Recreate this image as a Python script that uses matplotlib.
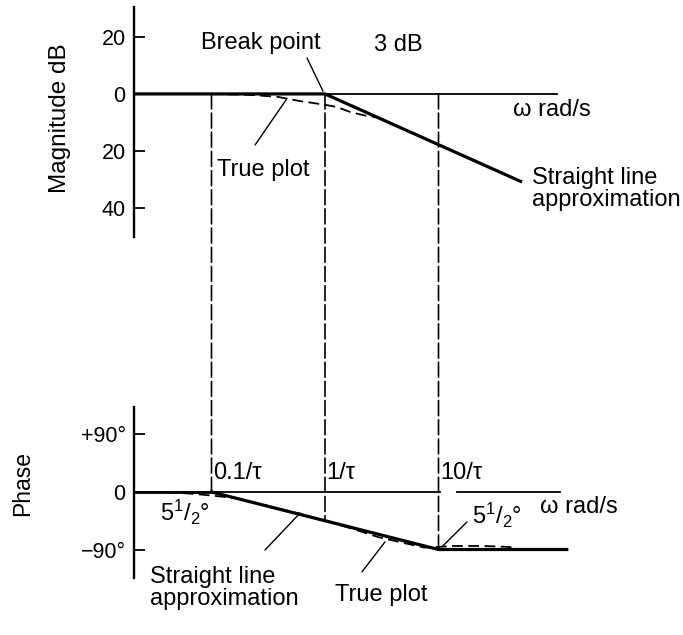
import matplotlib
matplotlib.use('Agg')
import matplotlib.pyplot as plt
from matplotlib.patches import ConnectionPatch

plt.rcParams['font.family'] = ['Liberation Sans', 'DejaVu Sans']
plt.rcParams['mathtext.fontset'] = 'custom'
plt.rcParams['mathtext.rm'] = 'Liberation Sans'
plt.rcParams['mathtext.it'] = 'Liberation Sans'
plt.rcParams['mathtext.default'] = 'regular'

# ---------------- data ----------------
mag_ticks = [20, 0, -20, -40]
mag_ticklabels = ['20', '0', '20', '40']
phase_ticks = [90, 0, -90]
phase_ticklabels = ['+90°', '0', '−90°']

corner_w = [0.1, 1, 10]
corner_labels = ['0.1/τ', '1/τ', '10/τ']
corner_phase = [0, -45, -90]

mag_asym_w = [0.0208, 1, 54.4]
mag_asym_db = [0, 0, -30.9]
mag_true_w = [0.1, 0.22, 0.38, 0.6, 1, 1.27, 1.66, 2.2, 3.05]
mag_true_db = [0, -0.35, -1, -2.5, -3.8, -4.6, -6.3, -7.5, -8.4]

ph_asym_w = [0.1, 10, 135]
ph_asym_deg = [0, -90, -90]
ph_true_w = [0.04, 0.07, 0.1, 0.17, 0.3, 0.6, 1, 1.7, 3, 5, 7.5, 10, 13, 25, 42, 50, 60]
ph_true_deg = [0, -3, -5.5, -10, -21, -34, -45, -57, -71, -80, -87, -86, -84.5, -84.5, -86, -89, -90]

# ---------------- layout ----------------
W, H = 683, 635
fig = plt.figure(figsize=(W / 100, H / 100), dpi=100)
fig.patch.set_facecolor('white')

xlo = 10 ** ((134 - 325) / 113.5)
xhi = 10 ** ((620 - 325) / 113.5)

ax1 = fig.add_axes([134 / W, 1 - 237 / H, 486 / W, 230 / H])
ax2 = fig.add_axes([134 / W, 1 - 578 / H, 486 / W, 171 / H])

FS = 17
for ax in (ax1, ax2):
    ax.set_xscale('log')
    ax.set_xlim(xlo, xhi)
    for s in ('top', 'right', 'bottom'):
        ax.spines[s].set_visible(False)
    ax.spines['left'].set_linewidth(1.7)
    ax.xaxis.set_visible(False)
    ax.tick_params(axis='y', direction='in', length=8, width=1.3,
                   labelsize=15.5, pad=6)
    ax.set_facecolor('none')

ax1.set_ylim(-50.2, 30.5)
ax1.set_yticks(mag_ticks)
ax1.set_yticklabels(mag_ticklabels)
ax2.set_ylim(-134.6, 133)
ax2.set_yticks(phase_ticks)
ax2.set_yticklabels(phase_ticklabels)

# axis lines (omega axes)
ax1.plot([xlo, 110], [0, 0], color='k', lw=1.3)
ax2.plot([xlo, 10.3], [0, 0], color='k', lw=1.3)
ax2.plot([14.5, 118], [0, 0], color='k', lw=1.3)

# magnitude curves
ax1.plot(mag_asym_w, mag_asym_db, color='k', lw=2.3, solid_capstyle='butt')
ax1.plot(mag_true_w, mag_true_db, color='k', lw=1.3, linestyle=(0, (6, 3)))

# phase curves
ax2.plot([xlo, ph_asym_w[0]], [0, 0], color='k', lw=2.0)
ax2.plot(ph_asym_w, ph_asym_deg, color='k', lw=2.3)
ax2.plot(ph_true_w, ph_true_deg, color='k', lw=1.3, linestyle=(0, (6, 3)))

# vertical dashed guide lines spanning both panels
for w, p in zip(corner_w, corner_phase):
    cp = ConnectionPatch(xyA=(w, 0), coordsA='data', axesA=ax1,
                         xyB=(w, p), coordsB='data', axesB=ax2,
                         color='k', lw=1.2, linestyle=(0, (9, 2.5)))
    fig.add_artist(cp)

lead = dict(arrowstyle='-', lw=1.0, color='k', shrinkA=0, shrinkB=0)

# ---- top annotations ----
ax1.text(0.273, 17.9, 'Break point', ha='center', va='center', fontsize=FS)
ax1.annotate('', xy=(0.96, 1.0), xytext=(0.694, 12.6), arrowprops=lead)
ax1.text(4.4, 17.2, '3 dB', ha='center', va='center', fontsize=FS)
ax1.text(45.3, -5.6, 'ω rad/s', ha='left', va='center', fontsize=FS)
ax1.text(0.112, -26.7, 'True plot', ha='left', va='center', fontsize=FS)
ax1.annotate('', xy=(0.463, -1.6), xytext=(0.242, -17.9), arrowprops=lead)
ax1.text(66.7, -33.3, 'Straight line\napproximation', ha='left', va='center',
         fontsize=FS, linespacing=0.98)

# ---- bottom annotations ----
for w, lab in zip(corner_w, corner_labels):
    ax2.text(w * 1.03, 29.7, lab, ha='left', va='center', fontsize=FS)
ax2.text(78.4, -23.5, 'ω rad/s', ha='left', va='center', fontsize=FS)
ax2.text(0.0352, -31.3, '5$^1$/$_2$°', ha='left', va='center', fontsize=FS)
ax2.text(19.7, -36, '5$^1$/$_2$°', ha='left', va='center', fontsize=FS)
ax2.annotate('', xy=(10.9, -84.5), xytext=(17.8, -47), arrowprops=lead)
ax2.text(0.0287, -150, 'Straight line\napproximation', ha='left', va='center',
         fontsize=FS, linespacing=0.98, clip_on=False)
ax2.annotate('', xy=(0.603, -33), xytext=(0.296, -90.8), arrowprops=lead,
             annotation_clip=False)
ax2.text(1.22, -161, 'True plot', ha='left', va='center', fontsize=FS,
         clip_on=False)
ax2.annotate('', xy=(3.38, -78), xytext=(2.12, -125), arrowprops=lead,
             annotation_clip=False)

# axis titles
fig.text(60 / W, 1 - 118 / H, 'Magnitude dB', rotation=90, ha='center',
         va='center', fontsize=17.5)
fig.text(23 / W, 1 - 483 / H, 'Phase', rotation=90, ha='center',
         va='center', fontsize=16.5)

fig.savefig('out.png', dpi=100, facecolor='white')
